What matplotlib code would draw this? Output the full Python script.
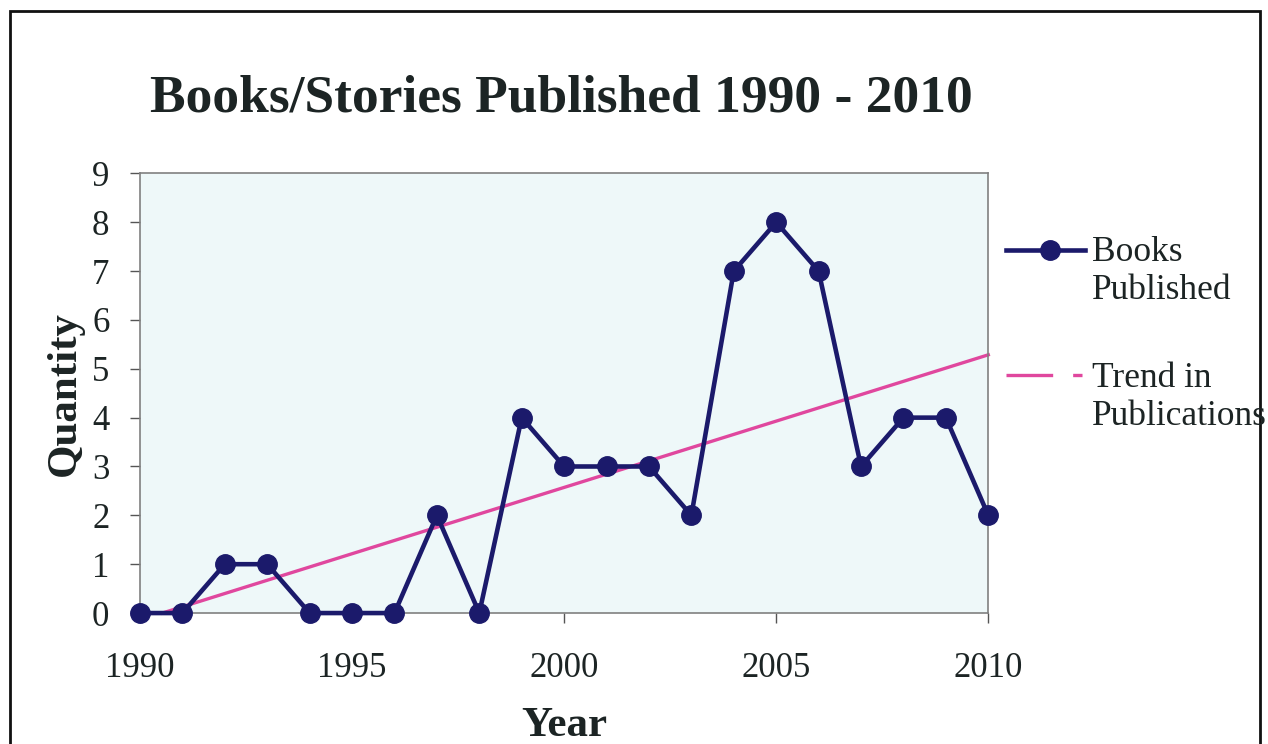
import numpy as np
import matplotlib.pyplot as plt
from matplotlib.lines import Line2D
from matplotlib.patches import Rectangle

# Data
years = list(range(1990, 2011))
books = [0, 0, 1, 1, 0, 0, 0, 2, 0, 4, 3, 3, 3, 2, 7, 8, 7, 3, 4, 4, 2]

x_ticks = [1990, 1995, 2000, 2005, 2010]
y_ticks = list(range(0, 10))
legend_labels = ['Books\nPublished', 'Trend in\nPublications']

navy = '#1b1a6b'
pink = '#e0479e'
ink = '#1c2424'

plt.rcParams['font.family'] = ['Liberation Serif', 'DejaVu Serif']

fig = plt.figure(figsize=(12.68, 7.44), dpi=100)
fig.patch.set_facecolor('white')
ax = fig.add_axes([0.1104, 0.176, 0.669, 0.591])
ax.set_facecolor('#eef8f9')

# linear trend (clipped at y = 0 like the spreadsheet does)
slope, icpt = np.polyfit(years, books, 1)
x0 = max(years[0], -icpt / slope)
tx = np.array([x0, years[-1]])
ax.plot(tx, slope * tx + icpt, color=pink, lw=2.4, zorder=2, clip_on=False)

ax.plot(years, books, color=navy, lw=3.3, marker='o', markersize=14,
        zorder=3, clip_on=False)

ax.set_xlim(1990, 2010)
ax.set_ylim(0, 9)
ax.set_xticks(x_ticks)
ax.set_yticks(y_ticks)
ax.tick_params(axis='both', labelsize=25, labelcolor=ink, color='#555555',
               length=7, width=1, direction='out')
ax.tick_params(axis='x', pad=21)
ax.tick_params(axis='y', pad=15)
for s in ax.spines.values():
    s.set_color('#808080')
    s.set_linewidth(1.2)

ax.set_xlabel('Year', fontsize=31, fontweight='bold', labelpad=16, color=ink)
ax.set_ylabel('Quantity', fontsize=31, fontweight='bold', labelpad=6,
              color=ink)

fig.text(0.443, 0.868, 'Books/Stories Published 1990 - 2010',
         ha='center', va='center', fontsize=38.5, fontweight='bold',
         color=ink)

# legend drawn by hand: the handle sits level with the first text line
handles = [
    Line2D([0.793, 0.856], [0.664, 0.664], color=navy, lw=3.3,
           transform=fig.transFigure),
    Line2D([0.828], [0.664], color=navy, marker='o', markersize=14,
           transform=fig.transFigure),
    Line2D([0.793, 0.853], [0.496, 0.496], color=pink, lw=2.4,
           dashes=(14, 6, 4, 6), transform=fig.transFigure),
]
for h in handles:
    fig.add_artist(h)
for lab, y in zip(legend_labels, [0.683, 0.513]):
    fig.text(0.861, y, lab, ha='left', va='top', fontsize=25.5,
             color=ink, linespacing=1.2)

# outer frame
fig.patches.append(Rectangle((0.008, -0.02), 0.986, 1.005, fill=False,
                             edgecolor='#111111', lw=2,
                             transform=fig.transFigure))

fig.savefig('out.png', dpi=100)
